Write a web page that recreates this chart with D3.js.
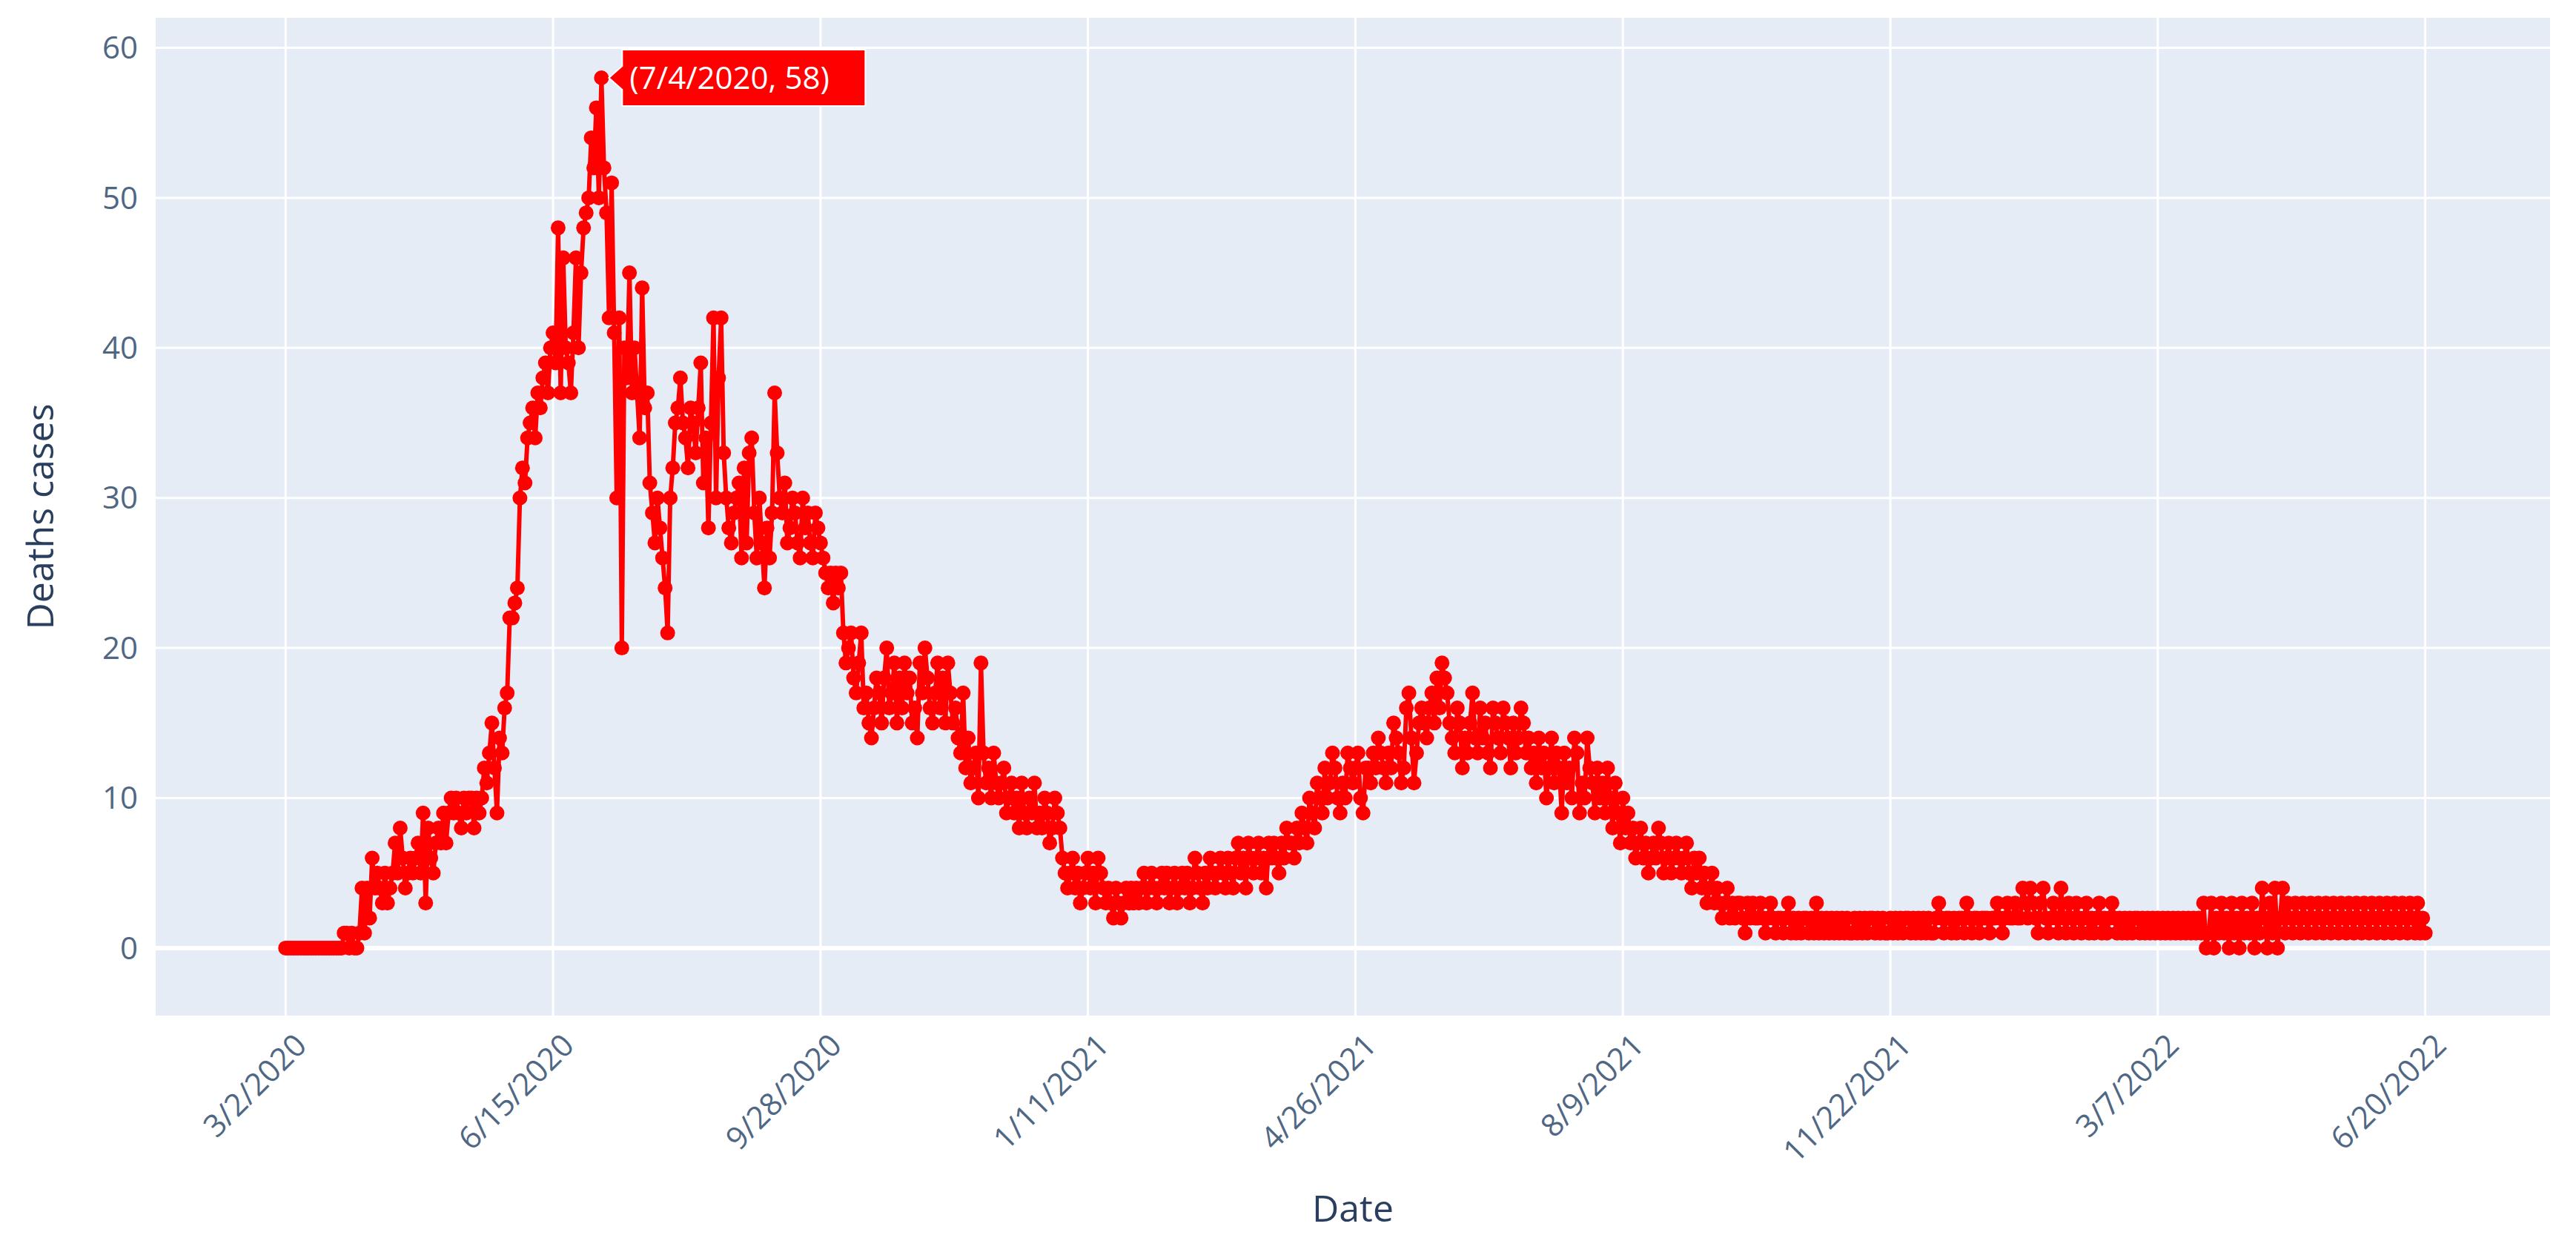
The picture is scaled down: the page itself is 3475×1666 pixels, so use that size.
<!DOCTYPE html>
<html>
<head>
<meta charset="utf-8" />
<script src="https://d3js.org/d3.v7.min.js"></script>
<style>
  body { margin: 0; background: #fff; }
  text { font-family: "Open Sans", sans-serif; }
</style>
</head>
<body>
<svg id="chart" width="3475" height="1666"></svg>
<script>
// daily deaths, one inner array per month (2020 starts on 3/2)
var deaths2020 = [
  [0,0,0,0,0,0,0,0,0,0,0,0,0,0,0,0,0,0,0,0,0,0,0,1,1,0,1,0,0,1],
  [4,1,4,2,6,4,5,4,3,5,3,4,5,7,5,8,6,4,5,6,5,6,7,5,9,3,8,6,5,7],
  [8,7,9,7,9,10,9,10,9,8,10,9,10,10,8,10,9,10,12,11,13,15,12,9,14,13,16,17,22,22,23],
  [24,30,32,31,34,35,36,34,37,36,38,39,37,40,41,39,48,37,46,40,39,37,41,46,40,45,48,49,50,54],
  [52,56,50,58,52,49,42,51,41,30,42,20,40,38,45,37,40,37,34,44,36,37,31,29,27,30,28,26,24,21,30],
  [32,35,36,38,35,34,32,36,35,33,36,39,31,34,28,35,42,30,38,42,33,30,28,27,29,30,31,26,32,27,33],
  [34,29,26,30,27,24,28,26,29,37,33,30,29,31,27,28,30,29,27,26,30,28,29,27,26,29,28,27,26,25],
  [24,25,23,25,24,25,21,19,20,21,18,17,19,21,16,17,15,14,16,18,17,15,18,20,16,17,19,15,18,16,19],
  [17,18,15,16,14,19,17,20,18,16,15,17,19,16,18,15,19,17,15,16,14,13,17,12,14,11,12,13,10,19],
  [13,11,12,10,13,11,10,11,12,9,10,11,9,10,8,11,9,8,10,9,11,8,9,8,10,9,7,8,10,9,8]
];
var deaths2021 = [
  [6,5,4,5,6,4,5,3,4,5,6,4,5,3,6,5,4,3,4,3,2,4,3,2,3,4,3,4,3,4,3],
  [4,5,3,4,5,4,3,4,5,4,5,3,4,5,3,4,5,4,5,3,4,6,5,4,3,5,4,6],
  [5,4,5,6,5,4,6,5,4,6,7,5,6,4,7,6,5,6,7,5,6,4,7,6,7,6,5,7,6,8,7],
  [7,6,8,7,9,8,7,10,9,8,11,10,9,12,10,11,13,12,10,9,11,10,13,12,11,12,13,10,9,12],
  [12,11,13,12,14,13,12,11,13,12,15,14,13,11,12,16,17,14,11,13,15,16,15,14,16,17,15,18,16,19,18],
  [17,15,14,13,16,15,12,14,13,15,17,14,13,16,14,15,13,12,16,15,14,13,16,15,14,12,15,13,14,16],
  [15,13,14,12,13,11,14,12,13,10,12,14,11,13,12,9,13,11,12,10,14,13,9,11,10,14,12,11,9,12,10],
  [11,9,12,10,8,11,9,7,10,8,9,7,8,6,7,8,6,7,5,6,7,6,8,7,5,6,7,5,6,7,6],
  [5,6,7,5,4,6,5,6,4,5,3,4,5,3,4,3,2,3,4,2,3,2,3,3,2,1,3,2,3,2],
  [2,3,2,1,2,3,2,1,2,2,1,2,3,1,2,1,2,1,2,2,1,2,1,3,1,2,1,2,1,2,1],
  [2,1,2,1,2,1,1,2,1,2,1,2,1,2,2,1,2,1,2,1,1,2,1,2,1,2,1,2,2,1],
  [2,1,2,1,2,1,2,1,1,2,3,2,1,2,2,1,2,1,2,2,1,3,2,1,2,2,1,2,2,2,1]
];
var deaths2022 = [
  [2,2,3,2,1,2,3,2,2,3,2,2,4,3,2,4,3,2,1,3,4,2,1,2,3,2,1,4,2,1,3],
  [2,1,3,2,1,2,3,1,2,1,2,3,1,2,1,2,3,2,1,2,1,2,1,2,1,2,2,1],
  [2,1,2,1,2,1,2,1,2,1,2,1,2,1,2,1,2,1,2,1,2,1,2,1,3,0,1,3,0,2,1],
  [3,1,2,0,3,1,2,0,3,1,2,1,3,0,2,1,4,2,0,3,1,4,0,2,4,1,3,2,1,3],
  [2,1,3,2,1,3,2,1,3,2,1,3,2,1,3,2,1,3,2,1,3,2,1,3,2,1,3,2,1,3,2],
  [1,3,2,1,3,2,1,3,2,1,3,2,1,3,2,1,3,1,2,1]
];
var yTicks = [0, 10, 20, 30, 40, 50, 60];
var xTickLabels = ["3/2/2020","6/15/2020","9/28/2020","1/11/2021","4/26/2021","8/9/2021","11/22/2021","3/7/2022","6/20/2022"];
var peakLabel = "(7/4/2020, 58)";

var data = [];
function addYear(year, firstMonth, firstDay, months) {
  months.forEach(function(vals, mi) {
    vals.forEach(function(v, di) {
      var day = (mi === 0 ? firstDay : 1) + di;
      data.push({ date: new Date(year, firstMonth + mi, day), value: v });
    });
  });
}
addYear(2020, 2, 2, deaths2020);
addYear(2021, 0, 1, deaths2021);
addYear(2022, 0, 1, deaths2022);

var parse = d3.timeParse("%m/%d/%Y");
var tickDates = xTickLabels.map(function(s) { return parse(s); });

var svg = d3.select("#chart");
var L = 210, R = 3440, T = 24, B = 1370;

var x = d3.scaleTime()
  .domain([new Date(2020, 0, 11), new Date(2022, 7, 8)])
  .range([L, R]);
var y = d3.scaleLinear().domain([-4.5, 62]).range([B, T]);

svg.append("rect").attr("x", L).attr("y", T)
  .attr("width", R - L).attr("height", B - T).attr("fill", "#E5ECF6");

// grid
svg.selectAll(".vg").data(tickDates).enter().append("line")
  .attr("x1", function(d) { return x(d); }).attr("x2", function(d) { return x(d); })
  .attr("y1", T).attr("y2", B).attr("stroke", "#fff").attr("stroke-width", 3);
svg.selectAll(".hg").data(yTicks).enter().append("line")
  .attr("x1", L).attr("x2", R)
  .attr("y1", function(d) { return y(d); }).attr("y2", function(d) { return y(d); })
  .attr("stroke", "#fff").attr("stroke-width", function(d) { return d === 0 ? 6 : 3; });

// axes text
svg.selectAll(".yt").data(yTicks).enter().append("text")
  .attr("x", L - 24).attr("y", function(d) { return y(d); }).attr("dy", "0.35em")
  .attr("text-anchor", "end").attr("font-size", 42).attr("fill", "#506784")
  .text(function(d) { return d; });
svg.selectAll(".xt").data(tickDates).enter().append("text")
  .attr("transform", function(d) { return "translate(" + (x(d) + 10) + "," + (B + 22) + ") rotate(-45)"; })
  .attr("text-anchor", "end").attr("dy", "0.7em").attr("font-size", 42).attr("fill", "#506784")
  .text(function(d, i) { return xTickLabels[i]; });

svg.append("text").attr("x", (L + R) / 2).attr("y", 1648).attr("text-anchor", "middle")
  .attr("font-size", 50).attr("fill", "#2a3f5f").text("Date");
svg.append("text").attr("transform", "translate(72," + ((T + B) / 2) + ") rotate(-90)")
  .attr("text-anchor", "middle").attr("font-size", 50).attr("fill", "#2a3f5f").text("Deaths cases");

// series
var line = d3.line().x(function(d) { return x(d.date); }).y(function(d) { return y(d.value); });
svg.append("path").datum(data).attr("d", line)
  .attr("fill", "none").attr("stroke", "red").attr("stroke-width", 6).attr("stroke-linejoin", "round");
svg.selectAll(".pt").data(data).enter().append("circle")
  .attr("cx", function(d) { return x(d.date); }).attr("cy", function(d) { return y(d.value); })
  .attr("r", 10).attr("fill", "red");

// hover label at peak
var peak = data.reduce(function(a, b) { return b.value > a.value ? b : a; });
var px = x(peak.date), py = y(peak.value);
var g = svg.append("g").attr("transform", "translate(" + px + "," + py + ")");
g.append("path").attr("d", "M10,0 L28,-16 L28,-38 L356,-38 L356,38 L28,38 L28,16 Z")
  .attr("fill", "red").attr("stroke", "#fff").attr("stroke-width", 2);
g.append("text").attr("x", 38).attr("y", 0).attr("dy", "0.35em")
  .attr("font-size", 42).attr("fill", "#fff").text(peakLabel);
</script>
</body>
</html>
